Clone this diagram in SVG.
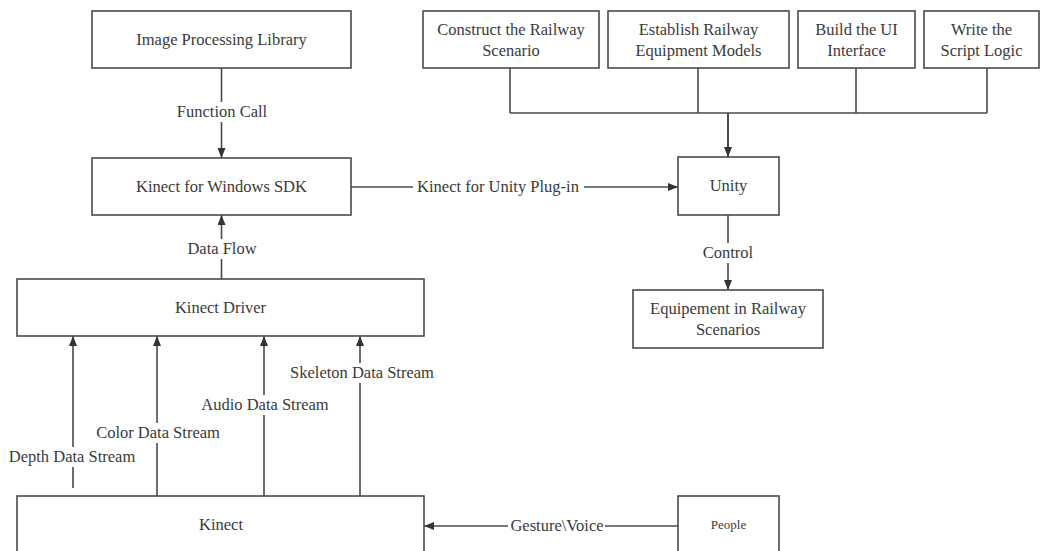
<svg xmlns="http://www.w3.org/2000/svg" width="1041" height="551" viewBox="0 0 1041 551">
<style>
.box{fill:#fff;stroke:#4a4a4a;stroke-width:1.6}
.t{font-family:"Liberation Serif","Times New Roman",Times,serif;font-size:16.5px;fill:#3a3a3a;text-anchor:middle}
.bg{fill:#fff;stroke:none}
.ln{fill:none;stroke:#4a4a4a;stroke-width:1.6}
.arr{marker-end:url(#ah)}
</style>
<defs>
<marker id="ah" markerUnits="userSpaceOnUse" markerWidth="10" markerHeight="8" refX="10" refY="4" orient="auto">
<path d="M0,0 L10,4 L0,8 z" fill="#333"/>
</marker>
</defs>
<rect width="1041" height="551" fill="#fff"/>
<g id="connectors">
<line class="ln arr" x1="221.5" y1="68" x2="221.5" y2="158"/>
<line class="ln arr" x1="221.5" y1="279" x2="221.5" y2="215"/>
<line class="ln arr" x1="351" y1="187" x2="678" y2="187"/>
<path class="ln" d="M510,68 V113 M698,68 V113 M856,68 V113 M987,68 V113 M510,113 H987"/>
<line class="ln arr" x1="728" y1="113" x2="728" y2="157" style="stroke-width:2"/>
<line class="ln arr" x1="728" y1="215" x2="728" y2="290"/>
<line class="ln arr" x1="73" y1="488" x2="73" y2="336"/>
<line class="ln arr" x1="157" y1="496" x2="157" y2="336"/>
<line class="ln arr" x1="264" y1="496" x2="264" y2="336"/>
<line class="ln arr" x1="360" y1="496" x2="360" y2="336"/>
<line class="ln arr" x1="678" y1="526" x2="424" y2="526"/>
<rect class="bg" x="174" y="102" width="96" height="20"/>
<rect class="bg" x="186" y="239" width="73" height="20"/>
<rect class="bg" x="413" y="177" width="171" height="20"/>
<rect class="bg" x="701" y="243" width="56" height="20"/>
<rect class="bg" x="6" y="447" width="133" height="20"/>
<rect class="bg" x="93" y="423" width="130" height="20"/>
<rect class="bg" x="198" y="395" width="133" height="20"/>
<rect class="bg" x="286" y="363" width="151" height="20"/>
<rect class="bg" x="508" y="516" width="97" height="20"/>
<text class="t" x="222" y="117">Function Call</text>
<text class="t" x="222" y="254">Data Flow</text>
<text class="t" x="498" y="192">Kinect for Unity Plug-in</text>
<text class="t" x="728" y="258">Control</text>
<text class="t" x="72" y="462">Depth Data Stream</text>
<text class="t" x="158" y="438">Color Data Stream</text>
<text class="t" x="265" y="410">Audio Data Stream</text>
<text class="t" x="362" y="378">Skeleton Data Stream</text>
<text class="t" x="557" y="531">Gesture\Voice</text>
</g>
<g id="image-processing-library">
<rect class="box" x="92" y="11" width="259" height="57"/>
<text class="t" x="221.5" y="45">Image Processing Library</text>
</g>
<g id="kinect-sdk">
<rect class="box" x="92" y="158" width="259" height="57"/>
<text class="t" x="221.5" y="192">Kinect for Windows SDK</text>
</g>
<g id="kinect-driver">
<rect class="box" x="17" y="279" width="407" height="57"/>
<text class="t" x="220.5" y="313">Kinect Driver</text>
</g>
<g id="kinect">
<rect class="box" x="17" y="496" width="407" height="70"/>
<text class="t" x="221" y="530">Kinect</text>
</g>
<g id="people">
<rect class="box" x="678" y="496" width="101" height="70"/>
<text class="t" x="728.5" y="529" style="font-size:13px">People</text>
</g>
<g id="construct-scenario">
<rect class="box" x="423" y="11" width="176" height="57"/>
<text class="t" x="511" y="35">Construct the Railway</text>
<text class="t" x="511" y="56">Scenario</text>
</g>
<g id="equipment-models">
<rect class="box" x="608" y="11" width="181" height="57"/>
<text class="t" x="698.5" y="35">Establish Railway</text>
<text class="t" x="698.5" y="56">Equipment Models</text>
</g>
<g id="ui-interface">
<rect class="box" x="798" y="11" width="117" height="57"/>
<text class="t" x="856.5" y="35">Build the UI</text>
<text class="t" x="856.5" y="56">Interface</text>
</g>
<g id="script-logic">
<rect class="box" x="924" y="11" width="115" height="57"/>
<text class="t" x="981.5" y="35">Write the</text>
<text class="t" x="981.5" y="56">Script Logic</text>
</g>
<g id="unity">
<rect class="box" x="678" y="157" width="101" height="58"/>
<text class="t" x="728.5" y="191">Unity</text>
</g>
<g id="equipment-scenarios">
<rect class="box" x="633" y="290" width="190" height="58"/>
<text class="t" x="728" y="314">Equipement in Railway</text>
<text class="t" x="728" y="335">Scenarios</text>
</g>
</svg>
